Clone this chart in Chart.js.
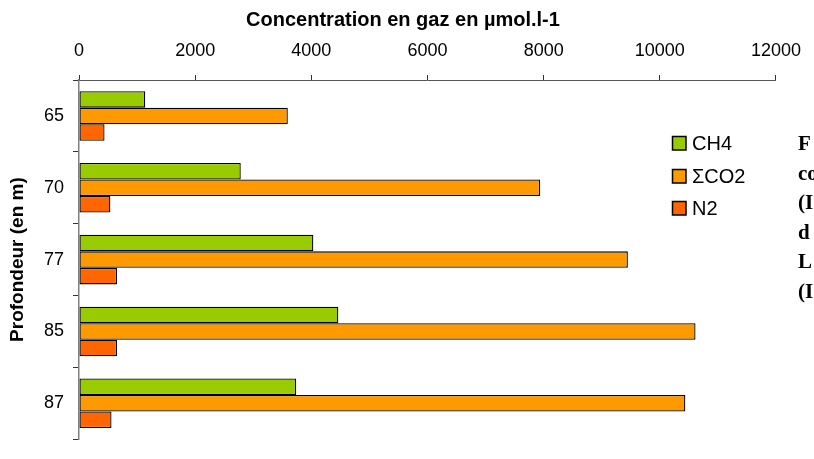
<!DOCTYPE html>
<html>
<head>
<meta charset="utf-8">
<script src="https://cdn.jsdelivr.net/npm/chart.js@4.4.0/dist/chart.umd.min.js"></script>
<style>
  html, body { margin: 0; padding: 0; background: #fff; }
  #wrap { position: relative; width: 814px; height: 459px; overflow: hidden; }
</style>
</head>
<body>
<div id="wrap"><canvas id="chart" width="814" height="459"></canvas></div>
<script>
'use strict';

// depths (m) and gas concentrations (µmol/l)
const depths = ['65', '70', '77', '85', '87'];
const ch4 = [1140, 2785, 4035, 4465, 3740];
const co2 = [3595, 7940, 9450, 10615, 10440];
const n2 = [440, 540, 655, 655, 560];
const xTicks = [0, 2000, 4000, 6000, 8000, 10000, 12000];

const colors = ['#99CC00', '#FF9900', '#FF6600'];
const seriesNames = ['CH4', '\u03A3CO2', 'N2'];
const xTitle = 'Concentration en gaz en \u00B5mol.l-1';

// caption lines on the right edge, cut off by the page
const caption = ['F', 'co', '(I', 'd', 'L', '(I'];

const font = '"Liberation Sans", Arial, sans-serif';

// legend, x title and side caption drawn by hand
const extras = {
  id: 'extras',
  afterDraw(chart) {
    const c = chart.ctx;
    c.save();

    // axis title sits a bit left of the plot centre
    c.font = 'bold 20px ' + font;
    c.fillStyle = '#000';
    c.textAlign = 'center';
    c.textBaseline = 'alphabetic';
    c.fillText(xTitle, 403, 26);

    c.textAlign = 'left';
    c.font = '20px ' + font;
    chart.data.datasets.forEach(function(ds, i) {
      const y = 136 + Math.round(i * 32.5);
      c.fillStyle = ds.backgroundColor;
      c.fillRect(672, y, 14, 14);
      c.strokeStyle = '#000';
      c.lineWidth = 1.5;
      c.strokeRect(672.5, y + 0.5, 13.5, 13.5);
      c.fillStyle = '#000';
      c.fillText(ds.label, 692, y + 14);
    });

    c.font = 'bold 21px "Liberation Serif", "Times New Roman", serif';
    caption.forEach(function(t, i) {
      c.fillText(t, 798, 150 + Math.round(i * 29.6));
    });
    c.restore();
  }
};

const ctx = document.getElementById('chart').getContext('2d');

new Chart(ctx, {
  type: 'bar',
  data: {
    labels: depths,
    datasets: [ch4, co2, n2].map(function(values, i) {
      return {
        label: seriesNames[i],
        data: values,
        backgroundColor: colors[i],
        borderColor: '#000',
        borderWidth: 1.3,
        borderSkipped: false,
        categoryPercentage: 0.69,
        barPercentage: 1
      };
    })
  },
  options: {
    indexAxis: 'y',
    responsive: false,
    animation: false,
    layout: { autoPadding: false, padding: { top: 0, right: 28.5, bottom: 3, left: 0 } },
    plugins: {
      legend: { display: false },
      tooltip: { enabled: false }
    },
    scales: {
      x: {
        position: 'top',
        min: 0,
        max: 12000,
        afterBuildTicks: function(axis) {
          axis.ticks = xTicks.map(function(v) { return { value: v }; });
        },
        afterFit: function(axis) { axis.height = 80; },
        grid: {
          drawOnChartArea: false,
          color: '#333',
          tickLength: 5
        },
        border: { color: '#555', width: 1 },
        ticks: {
          color: '#000',
          padding: 13,
          maxRotation: 0,
          font: { family: font, size: 18 },
          callback: function(v) { return String(v); }
        }
      },
      y: {
        afterFit: function(axis) { axis.width = 79; },
        grid: {
          drawOnChartArea: false,
          color: '#333',
          tickLength: 6,
          offset: true
        },
        border: { color: '#808080', width: 1.5 },
        ticks: {
          color: '#000',
          padding: 9,
          font: { family: font, size: 18 }
        },
        title: {
          display: true,
          text: 'Profondeur (en m)',
          color: '#000',
          padding: { top: 6, bottom: 0 },
          font: { family: font, size: 19, weight: 'bold' }
        }
      }
    }
  },
  plugins: [extras]
});
</script>
</body>
</html>
